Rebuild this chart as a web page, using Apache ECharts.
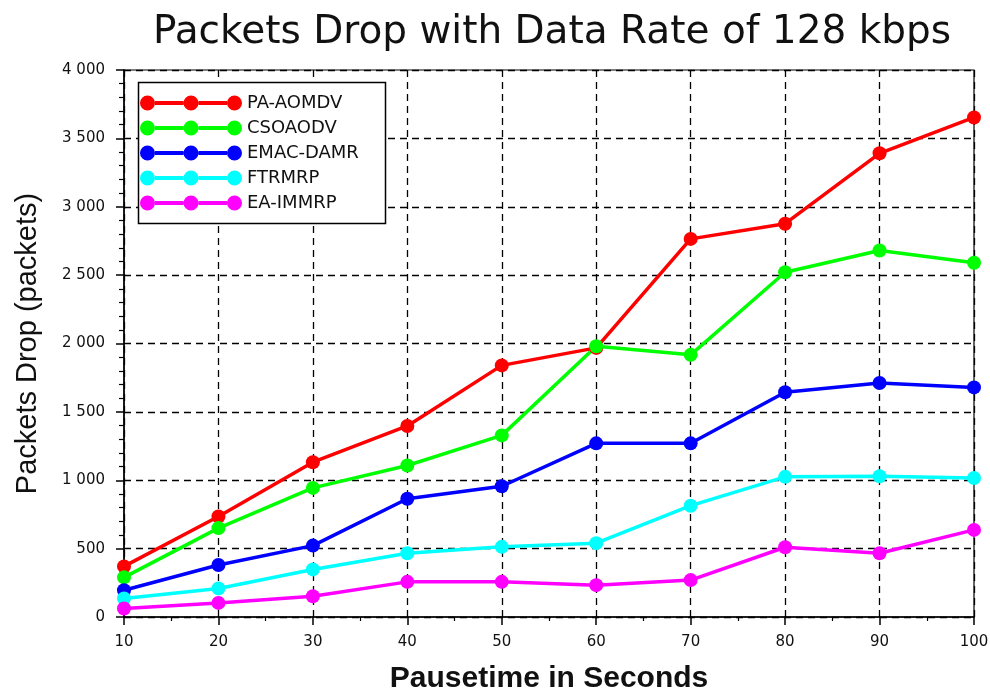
<!DOCTYPE html>
<html>
<head>
<meta charset="utf-8">
<script src="https://cdn.jsdelivr.net/npm/echarts@6/dist/echarts.min.js"></script>
<style>html,body{margin:0;padding:0;background:#fff}#chart{width:990px;height:693px}</style>
</head>
<body>
<div id="chart"></div>
<script>
var pauseTimes = [10, 20, 30, 40, 50, 60, 70, 80, 90, 100];
var seriesNames = ['PA-AOMDV', 'CSOAODV', 'EMAC-DAMR', 'FTRMRP', 'EA-IMMRP'];
var paAomdv = [370, 735, 1132, 1397, 1840, 1968, 2765, 2876, 3391, 3653];
var csoaodv = [290, 650, 944, 1108, 1328, 1980, 1917, 2521, 2680, 2590];
var emacDamr = [196, 380, 522, 865, 956, 1270, 1270, 1643, 1711, 1679];
var ftrmrp = [135, 209, 348, 466, 513, 540, 814, 1025, 1029, 1017];
var eaImmrp = [62, 103, 152, 257, 257, 233, 270, 510, 466, 637];
var seriesColors = ['#ff0000', '#00ff00', '#0000ff', '#00ffff', '#ff00ff'];

var allValues = [paAomdv, csoaodv, emacDamr, ftrmrp, eaImmrp];

function pairs(vals) {
  return pauseTimes.map(function (x, i) { return [x, vals[i]]; });
}
function fmt(v) {
  var s = String(v);
  if (s.length > 3) s = s.slice(0, s.length - 3) + ' ' + s.slice(s.length - 3);
  return s;
}

var legendIcon = 'path://M0,7.5a7.5,7.5 0 1,0 15,0a7.5,7.5 0 1,0 -15,0z' +
  'M15,5.5h28.5v4h-28.5z' +
  'M43.5,7.5a7.5,7.5 0 1,0 15,0a7.5,7.5 0 1,0 -15,0z' +
  'M58.5,5.5h28.5v4h-28.5z' +
  'M87,7.5a7.5,7.5 0 1,0 15,0a7.5,7.5 0 1,0 -15,0z';

var chart = echarts.init(document.getElementById('chart'), null, { renderer: 'canvas' });

var option = {
  backgroundColor: '#ffffff',
  animation: false,
  title: {
    text: 'Packets Drop with Data Rate of 128 kbps',
    left: 547,
    top: 8,
    textAlign: 'center',
    textStyle: { fontFamily: 'DejaVu Sans', fontSize: 39, fontWeight: 'normal', color: '#111' }
  },
  grid: {
    left: 124, right: 16, top: 70, bottom: 76,
    outerBoundsMode: 'none',
    containLabel: false,
    show: true, borderColor: '#000', borderWidth: 1.2, backgroundColor: 'transparent'
  },
  graphic: [{
    type: 'rect', z: 3,
    shape: { x: 138.5, y: 82.5, width: 247, height: 141 },
    style: { fill: '#fff', stroke: '#000', lineWidth: 1.5 }
  }],
  legend: {
    orient: 'vertical',
    left: 135,
    top: 89,
    z: 4,
    itemWidth: 102,
    itemHeight: 15,
    itemGap: 7,
    icon: legendIcon,
    data: seriesNames,
    textStyle: { fontFamily: 'DejaVu Sans', fontSize: 18, color: '#111' }
  },
  xAxis: {
    type: 'value',
    min: 10, max: 100, interval: 10,
    name: 'Pausetime in Seconds',
    nameLocation: 'middle',
    nameGap: 47,
    nameTextStyle: { fontFamily: 'Liberation Sans', fontSize: 30, fontWeight: 'bold', color: '#111' },
    axisLine: { show: true, lineStyle: { color: '#000', width: 1.5 } },
    axisTick: { show: true, length: 8, lineStyle: { color: '#000', width: 1.5 } },
    minorTick: { show: true, splitNumber: 2, length: 4, lineStyle: { color: '#000', width: 1.2 } },
    axisLabel: { margin: 18, fontFamily: 'DejaVu Sans', fontSize: 15, color: '#111' },
    splitLine: { show: true, lineStyle: { color: '#000', type: [7, 5], width: 1.3 } }
  },
  yAxis: {
    type: 'value',
    min: 0, max: 4000, interval: 500,
    name: 'Packets Drop (packets)',
    nameLocation: 'middle',
    nameGap: 82,
    nameTextStyle: { fontFamily: 'Liberation Sans', fontSize: 29, fontWeight: 'normal', color: '#111' },
    axisLine: { show: true, lineStyle: { color: '#000', width: 1.5 } },
    axisTick: { show: true, length: 8, lineStyle: { color: '#000', width: 1.5 } },
    minorTick: { show: true, splitNumber: 5, length: 5, lineStyle: { color: '#000', width: 1.2 } },
    axisLabel: { margin: 19, fontFamily: 'DejaVu Sans', fontSize: 15, color: '#111', formatter: fmt },
    splitLine: { show: true, lineStyle: { color: '#000', type: [7, 5], width: 1.3 } }
  },
  series: seriesNames.map(function (name, i) {
    return {
      name: name,
      type: 'line',
      data: pairs(allValues[i]),
      symbol: 'circle',
      symbolSize: 14,
      z: 2,
      color: seriesColors[i],
      lineStyle: { width: 3.5, color: seriesColors[i] },
      itemStyle: { color: seriesColors[i] }
    };
  })
};
chart.setOption(option);
</script>
</body>
</html>
